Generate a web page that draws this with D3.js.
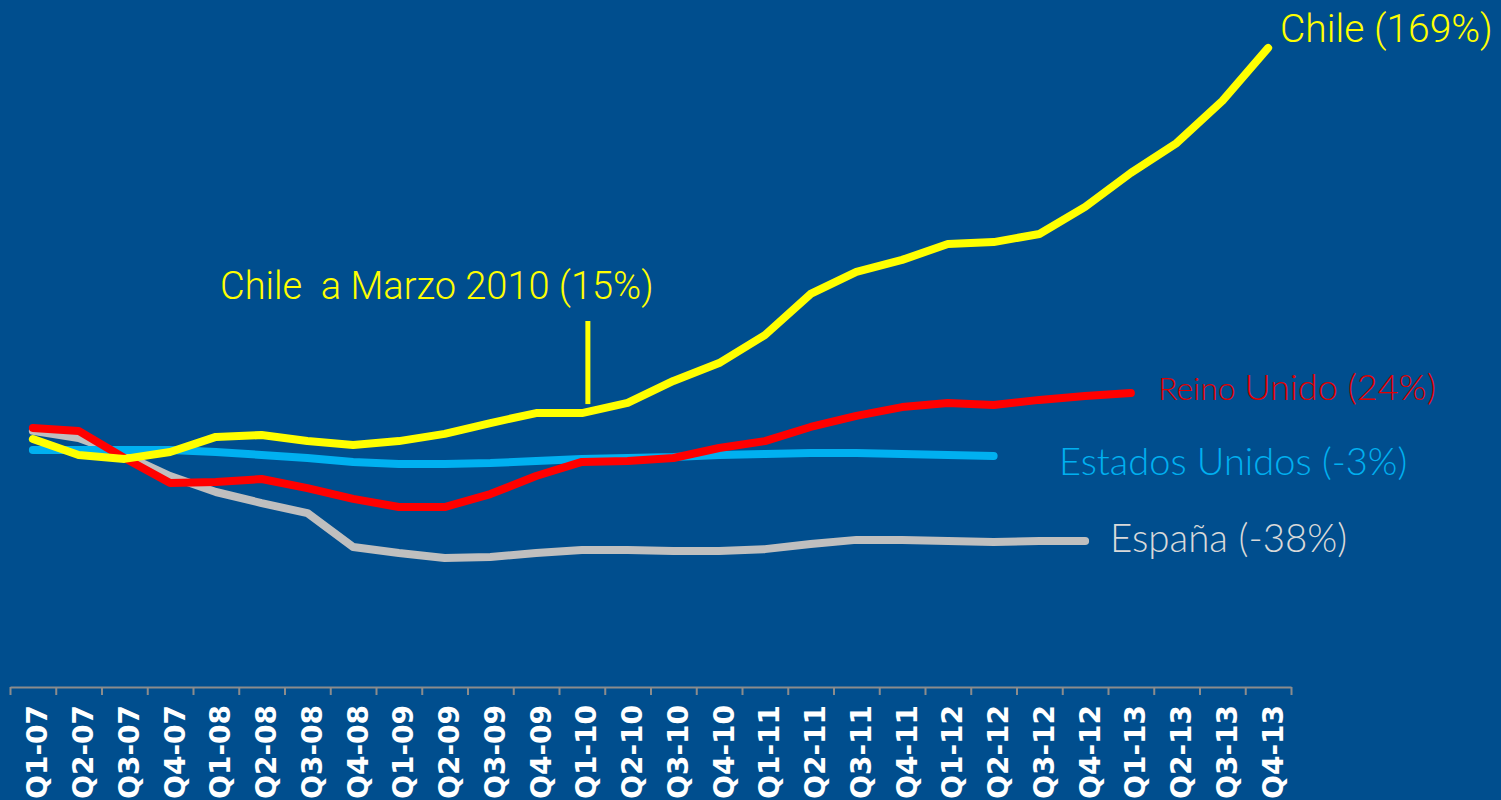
<!DOCTYPE html>
<html>
<head>
<meta charset="utf-8">
<script src="https://cdn.jsdelivr.net/npm/d3@7"></script>
<style>
  html, body { margin: 0; padding: 0; background: #004e8e; }
  svg { display: block; }
  .label { white-space: pre; }
</style>
</head>
<body>
<svg id="chart" width="1501" height="800"></svg>
<script>
// quarters, Q1-07 .. Q4-13
const quarters = ['Q1-07', 'Q2-07', 'Q3-07', 'Q4-07', 'Q1-08', 'Q2-08', 'Q3-08', 'Q4-08',
  'Q1-09', 'Q2-09', 'Q3-09', 'Q4-09', 'Q1-10', 'Q2-10', 'Q3-10', 'Q4-10',
  'Q1-11', 'Q2-11', 'Q3-11', 'Q4-11', 'Q1-12', 'Q2-12', 'Q3-12', 'Q4-12',
  'Q1-13', 'Q2-13', 'Q3-13', 'Q4-13'];

// price index values (Chile Q1-07 = 100)
const chile = [100, 93.1, 91.4, 94.4, 100.9, 101.7, 99.1, 97.4, 99.1, 102.2, 106.9, 111.2,
  111.2, 115.6, 125.1, 132.8, 144.9, 162.7, 172.2, 177.4, 184.3, 185.1, 188.6, 200.3,
  215.0, 227.9, 246.1, 269.0];
const reinoUnido = [104.8, 103.5, 91.8, 81.0, 81.4, 82.7, 78.8, 74.1, 70.6, 70.6, 76.2, 84.0,
  90.1, 90.5, 91.8, 96.1, 99.1, 105.2, 110.0, 113.8, 115.6, 114.7, 116.9, 118.6, 119.9];
const estadosUnidos = [95.2, 95.2, 95.2, 95.2, 94.4, 93.1, 91.8, 90.1, 89.2, 89.2, 89.6, 90.5,
  91.4, 91.8, 92.2, 93.1, 93.5, 94.0, 94.0, 93.5, 93.1, 92.7];
const espana = [103.5, 100.4, 93.1, 84.0, 77.1, 72.3, 68.0, 53.3, 50.7, 48.6, 49.0, 50.7,
  52.0, 52.0, 51.6, 51.6, 52.4, 54.6, 56.4, 56.4, 55.9, 55.5, 55.9, 55.9];

const series = [
  { name: 'España', values: espana, color: '#bfbfbf' },
  { name: 'Estados Unidos', values: estadosUnidos, color: '#00b0f0' },
  { name: 'Reino Unido', values: reinoUnido, color: '#ff0000' },
  { name: 'Chile', values: chile, color: '#ffff00' }
];

const svg = d3.select('#chart');
const axisY = 687;

const x = d3.scaleBand().domain(quarters).range([10, 1291]).padding(0);
const y = d3.scaleLinear().domain([0, 300]).range([670.4, -23.8]);
const cx = (i) => x(quarters[i]) + x.bandwidth() / 2;

// lines
const line = d3.line()
  .x((d, i) => cx(i))
  .y((d) => y(d));

svg.append('g')
  .selectAll('path')
  .data(series)
  .join('path')
  .attr('d', (d) => line(d.values))
  .attr('fill', 'none')
  .attr('stroke', (d) => d.color)
  .attr('stroke-width', 8)
  .attr('stroke-linejoin', 'round')
  .attr('stroke-linecap', 'round');

// axis: boundary ticks between categories
const edges = d3.scaleLinear().domain([0, quarters.length]).range(x.range());
const tickAxis = svg.append('g')
  .attr('transform', `translate(0, ${axisY})`)
  .call(d3.axisBottom(edges).tickValues(d3.range(quarters.length + 1))
    .tickSize(8).tickSizeOuter(0).tickFormat(''));
tickAxis.selectAll('path, line').attr('stroke', '#8c8c8c').attr('stroke-width', 2);

const labelAxis = svg.append('g')
  .attr('transform', `translate(0, ${axisY})`)
  .call(d3.axisBottom(x).tickSize(0));
labelAxis.select('.domain').remove();
labelAxis.selectAll('text')
  .attr('fill', '#ffffff')
  .attr('font-family', 'DejaVu Sans')
  .attr('font-weight', 'bold')
  .attr('font-size', 28)
  .attr('text-anchor', 'end')
  .attr('transform', 'rotate(-90)')
  .attr('x', -18)
  .attr('y', 0)
  .attr('dy', '0.52em');

// annotations
const labelFont = 'Lato';

svg.append('text')
  .attr('class', 'label')
  .attr('x', 220).attr('y', 299)
  .attr('fill', '#ffff00')
  .attr('font-family', 'Roboto').attr('font-weight', 300).attr('font-size', 38)
  .text('Chile  a Marzo 2010 (15%)');

svg.append('line')
  .attr('x1', cx(12) + 6).attr('x2', cx(12) + 6)
  .attr('y1', 321).attr('y2', y(chile[12]) - 9)
  .attr('stroke', '#ffff00').attr('stroke-width', 5);

svg.append('text')
  .attr('x', 1280).attr('y', 42)
  .attr('fill', '#ffff00')
  .attr('font-family', 'Roboto').attr('font-weight', 300).attr('font-size', 39)
  .text('Chile (169%)');

const ru = svg.append('text')
  .attr('class', 'label')
  .attr('x', 1158).attr('y', 400)
  .attr('fill', '#e00000')
  .attr('font-family', labelFont).attr('font-weight', 300);
ru.append('tspan').attr('font-size', 32).text('Reino ');
ru.append('tspan').attr('font-size', 36).text('Unido (24%)');

svg.append('text')
  .attr('x', 1059).attr('y', 475)
  .attr('fill', '#00b0f0')
  .attr('font-family', labelFont).attr('font-weight', 300).attr('font-size', 38)
  .text('Estados Unidos (-3%)');

svg.append('text')
  .attr('x', 1110).attr('y', 552)
  .attr('fill', '#d9d9d9')
  .attr('font-family', labelFont).attr('font-weight', 300).attr('font-size', 38.5)
  .text('España (-38%)');
</script>
</body>
</html>
